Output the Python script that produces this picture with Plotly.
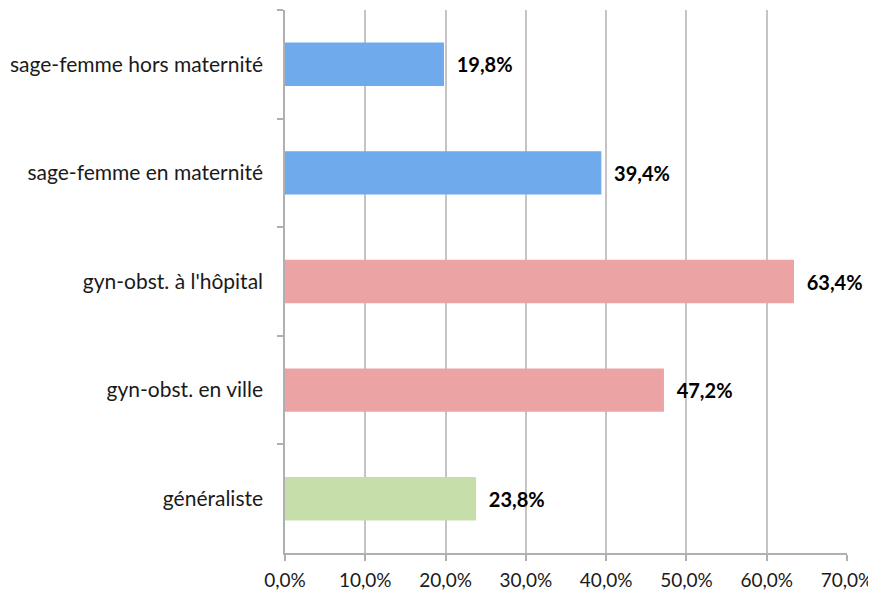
import plotly.graph_objects as go

categories = ["sage-femme hors maternité", "sage-femme en maternité",
              "gyn-obst. à l'hôpital", "gyn-obst. en ville", "généraliste"]
values = [19.8, 39.4, 63.4, 47.2, 23.8]
colors = ["#6eaaec", "#6eaaec", "#eba3a3", "#eba3a3", "#c6dfaa"]
x_ticks = [0, 10, 20, 30, 40, 50, 60, 70]
x_tick_text = ["0,0%", "10,0%", "20,0%", "30,0%", "40,0%", "50,0%", "60,0%", "70,0%"]

FONT = "Lato"

fig = go.Figure(go.Bar(
    y=categories, x=values, orientation="h",
    marker=dict(color=colors, line=dict(width=0)),
    width=0.4,
    texttemplate="  %{x:.1f}%", textposition="outside",
    textfont=dict(family=FONT, size=20, color="black", weight="bold"),
    cliponaxis=False,
))

fig.update_layout(
    width=868, height=585,
    margin=dict(l=277, r=29, t=2, b=40, autoexpand=False),
    plot_bgcolor="white", paper_bgcolor="white",
    separators=",.",
    showlegend=False,
    font=dict(family=FONT, size=20, color="#1a1a1a"),
)
fig.update_xaxes(
    range=[0, 70], tickvals=x_ticks, ticktext=x_tick_text,
    tickfont=dict(size=19), automargin=False,
    showgrid=True, gridcolor="#c4c4c4", gridwidth=1.5,
    showline=True, linecolor="#b0b0b0", linewidth=1.5,
    ticks="outside", ticklen=6, tickcolor="#b0b0b0", tickwidth=1.5,
    ticklabelstandoff=3, zeroline=False,
)
fig.update_yaxes(
    categoryorder="array", categoryarray=categories, autorange="reversed",
    tickfont=dict(size=21), automargin=False,
    showline=True, linecolor="#b0b0b0", linewidth=1.5,
    ticks="outside", ticklen=6, tickcolor="#b0b0b0", tickwidth=1.5,
    tickson="boundaries", ticklabelstandoff=16, showgrid=False,
)

fig.write_html("out.html")
